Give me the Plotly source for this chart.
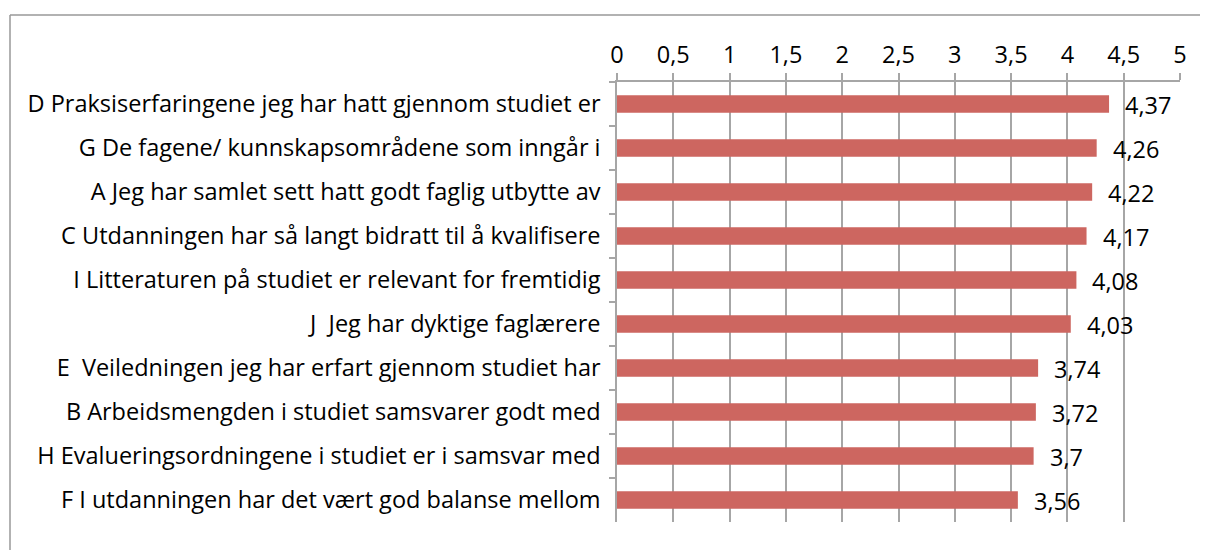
import plotly.graph_objects as go

categories = [
    "D Praksiserfaringene jeg har hatt gjennom studiet er",
    "G De fagene/ kunnskapsområdene som inngår i",
    "A Jeg har samlet sett hatt godt faglig utbytte av",
    "C Utdanningen har så langt bidratt til å kvalifisere",
    "I Litteraturen på studiet er relevant for fremtidig",
    "J  Jeg har dyktige faglærere",
    "E  Veiledningen jeg har erfart gjennom studiet har",
    "B Arbeidsmengden i studiet samsvarer godt med",
    "H Evalueringsordningene i studiet er i samsvar med",
    "F I utdanningen har det vært god balanse mellom",
]
values = [4.37, 4.26, 4.22, 4.17, 4.08, 4.03, 3.74, 3.72, 3.70, 3.56]
tick_vals = [0, 0.5, 1, 1.5, 2, 2.5, 3, 3.5, 4, 4.5, 5]
tick_text = [str(v).replace(".", ",") if v % 1 else str(int(v)) for v in tick_vals]
value_labels = [("%g" % v).replace(".", ",") for v in values]

FONT = "Open Sans"
FS = 23.5
OFF = 8  # page body margin
W, H = 1208 - OFF, 550 - OFF
L, R, T, B = 617 - OFF, 28, 82 - OFF, 28

fig = go.Figure(go.Bar(
    x=values, y=categories, orientation="h",
    marker=dict(color="#CD6660", line=dict(width=0)),
    width=0.4,
    hoverinfo="skip",
))

for c, v, t in zip(categories, values, value_labels):
    fig.add_annotation(x=v, y=c, text=t, showarrow=False, xanchor="left",
                       xshift=14, yshift=-1, font=dict(family=FONT, size=FS, color="#000"))

pw = W - L - R
ph = H - T - B
def px2x(px):
    return (px - OFF - L) / pw
def py2y(py):
    return 1 - (py - OFF - T) / ph

fig.add_shape(type="line", xref="paper", yref="paper",
              x0=px2x(10), x1=px2x(1220), y0=py2y(15), y1=py2y(15),
              line=dict(color="#999999", width=1.5))
fig.add_shape(type="line", xref="paper", yref="paper",
              x0=px2x(10), x1=px2x(10), y0=py2y(15), y1=py2y(560),
              line=dict(color="#999999", width=1.5))

fig.update_layout(
    width=W, height=H,
    margin=dict(l=L, r=R, t=T, b=B),
    paper_bgcolor="white", plot_bgcolor="white",
    showlegend=False,
    font=dict(family=FONT, size=FS, color="#000"),
    xaxis=dict(
        side="top", range=[0, 5], tickvals=tick_vals, ticktext=tick_text,
        showgrid=True, gridcolor="#A6A6A6", gridwidth=1.5,
        showline=True, linecolor="#A6A6A6", linewidth=1.5,
        ticks="outside", ticklen=7, tickcolor="#A6A6A6", tickwidth=1.5,
        zeroline=False, fixedrange=True,
        ticklabelstandoff=1,
        tickfont=dict(family=FONT, size=FS, color="#000"),
    ),
    yaxis=dict(
        autorange="reversed", type="category",
        showline=True, linecolor="#A6A6A6", linewidth=1.5,
        ticks="outside", ticklen=6, tickcolor="#A6A6A6", tickwidth=1.5,
        tickson="boundaries", showgrid=False,
        ticklabelstandoff=10,
        tickfont=dict(family=FONT, size=FS, color="#000"),
    ),
)

fig.write_html("out.html")
